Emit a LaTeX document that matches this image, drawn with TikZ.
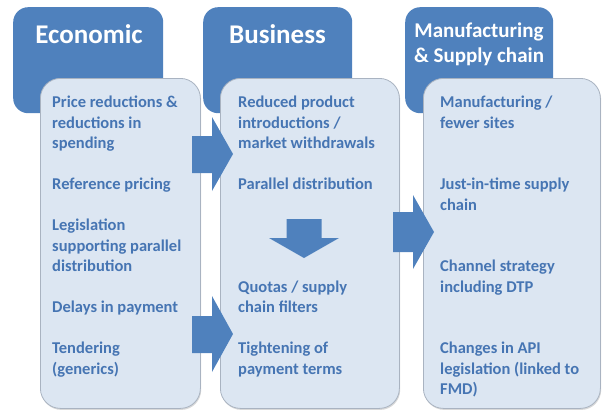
\documentclass[tikz,border=0pt]{standalone}
\usepackage{fontspec}
\setmainfont{Carlito}
\usetikzlibrary{shadows}
\definecolor{hdrc}{HTML}{4F81BD}
\definecolor{litefill}{HTML}{DCE6F2}
\definecolor{liteline}{HTML}{A9B3C1}
\definecolor{bodyc}{HTML}{4675B3}
\definecolor{arrowc}{HTML}{4F81BD}
\begin{document}
\begin{tikzpicture}[x=1pt,y=-1pt,
  hdrbox/.style={fill=hdrc, draw=none, rounded corners=15pt, anchor=north west, inner sep=0pt},
  litebox/.style={fill=litefill, draw=liteline, line width=0.8pt, rounded corners=20pt, anchor=north west, inner sep=0pt,
     drop shadow={shadow xshift=0.8pt, shadow yshift=-1.5pt, opacity=0.25, fill=black!60}},
  hdrtext/.style={font=\bfseries\fontsize{27}{30}\selectfont, text=white, anchor=base, inner sep=0pt},
  hdrtextsmall/.style={font=\bfseries\fontsize{21}{25}\selectfont, text=white, anchor=north, align=center, inner sep=0pt},
  bodytext/.style={font=\bfseries\fontsize{16.5}{20.5}\selectfont, text=bodyc, align=left, anchor=north west, inner sep=0pt},
  blockarrow/.style={fill=arrowc, draw=none}]
\useasboundingbox (0,0) rectangle (602,410);

% header boxes
\node[hdrbox, minimum width=150pt, minimum height=106pt] (econH) at (13,7) {};
\node[hdrbox, minimum width=149pt, minimum height=106pt] (busH) at (203,7) {};
\node[hdrbox, minimum width=148pt, minimum height=106pt] (mfgH) at (405,7) {};

% light boxes
\node[litebox, minimum width=160pt, minimum height=330pt] (econB) at (40,78) {};
\node[litebox, minimum width=179pt, minimum height=330pt] (busB) at (220,78) {};
\node[litebox, minimum width=177pt, minimum height=330pt] (mfgB) at (423,78) {};

% header texts
\node[hdrtext] (econT) at (89,43) {Economic};
\node[hdrtext] (busT) at (277.5,43) {Business};
\node[hdrtextsmall] (mfgT) at (479,19.5) {\strut Manufacturing\\\& Supply chain};

% block arrows
\fill[blockarrow] (192,136) -- (212,136) -- (212,117) -- (233,154) -- (212,191) -- (212,173) -- (192,173) -- cycle;
\fill[blockarrow] (192,316) -- (212,316) -- (212,296) -- (233,334) -- (212,372) -- (212,353) -- (192,353) -- cycle;
\fill[blockarrow] (393,212) -- (413,212) -- (413,195) -- (434,232) -- (413,269) -- (413,252) -- (393,252) -- cycle;
\fill[blockarrow] (286.5,219) -- (321.5,219) -- (321.5,238) -- (339,238) -- (304,258) -- (269,238) -- (286.5,238) -- cycle;

% Economic texts
\node[bodytext] (e1) at (52,93.15) {\strut Price reductions \&\\reductions in\\spending};
\node[bodytext] (e2) at (52,175.15) {\strut Reference pricing};
\node[bodytext] (e3) at (52,216.15) {\strut Legislation\\supporting parallel\\distribution};
\node[bodytext] (e4) at (52,298.15) {\strut Delays in payment};
\node[bodytext] (e5) at (52,339.15) {\strut Tendering\\(generics)};

% Business texts
\node[bodytext] (b1) at (238,93.15) {\strut Reduced product\\introductions /\\market withdrawals};
\node[bodytext] (b2) at (238,175.15) {\strut Parallel distribution};
\node[bodytext] (b3) at (238,277.65) {\strut Quotas / supply\\chain filters};
\node[bodytext] (b4) at (238,339.15) {\strut Tightening of\\payment terms};

% Manufacturing texts
\node[bodytext] (m1) at (440,93.15) {\strut Manufacturing /\\fewer sites};
\node[bodytext] (m2) at (440,175.15) {\strut Just-in-time supply\\chain};
\node[bodytext] (m3) at (440,257.15) {\strut Channel strategy\\including DTP};
\node[bodytext] (m4) at (440,339.15) {\strut Changes in API\\legislation (linked to\\FMD)};
\end{tikzpicture}
\end{document}
